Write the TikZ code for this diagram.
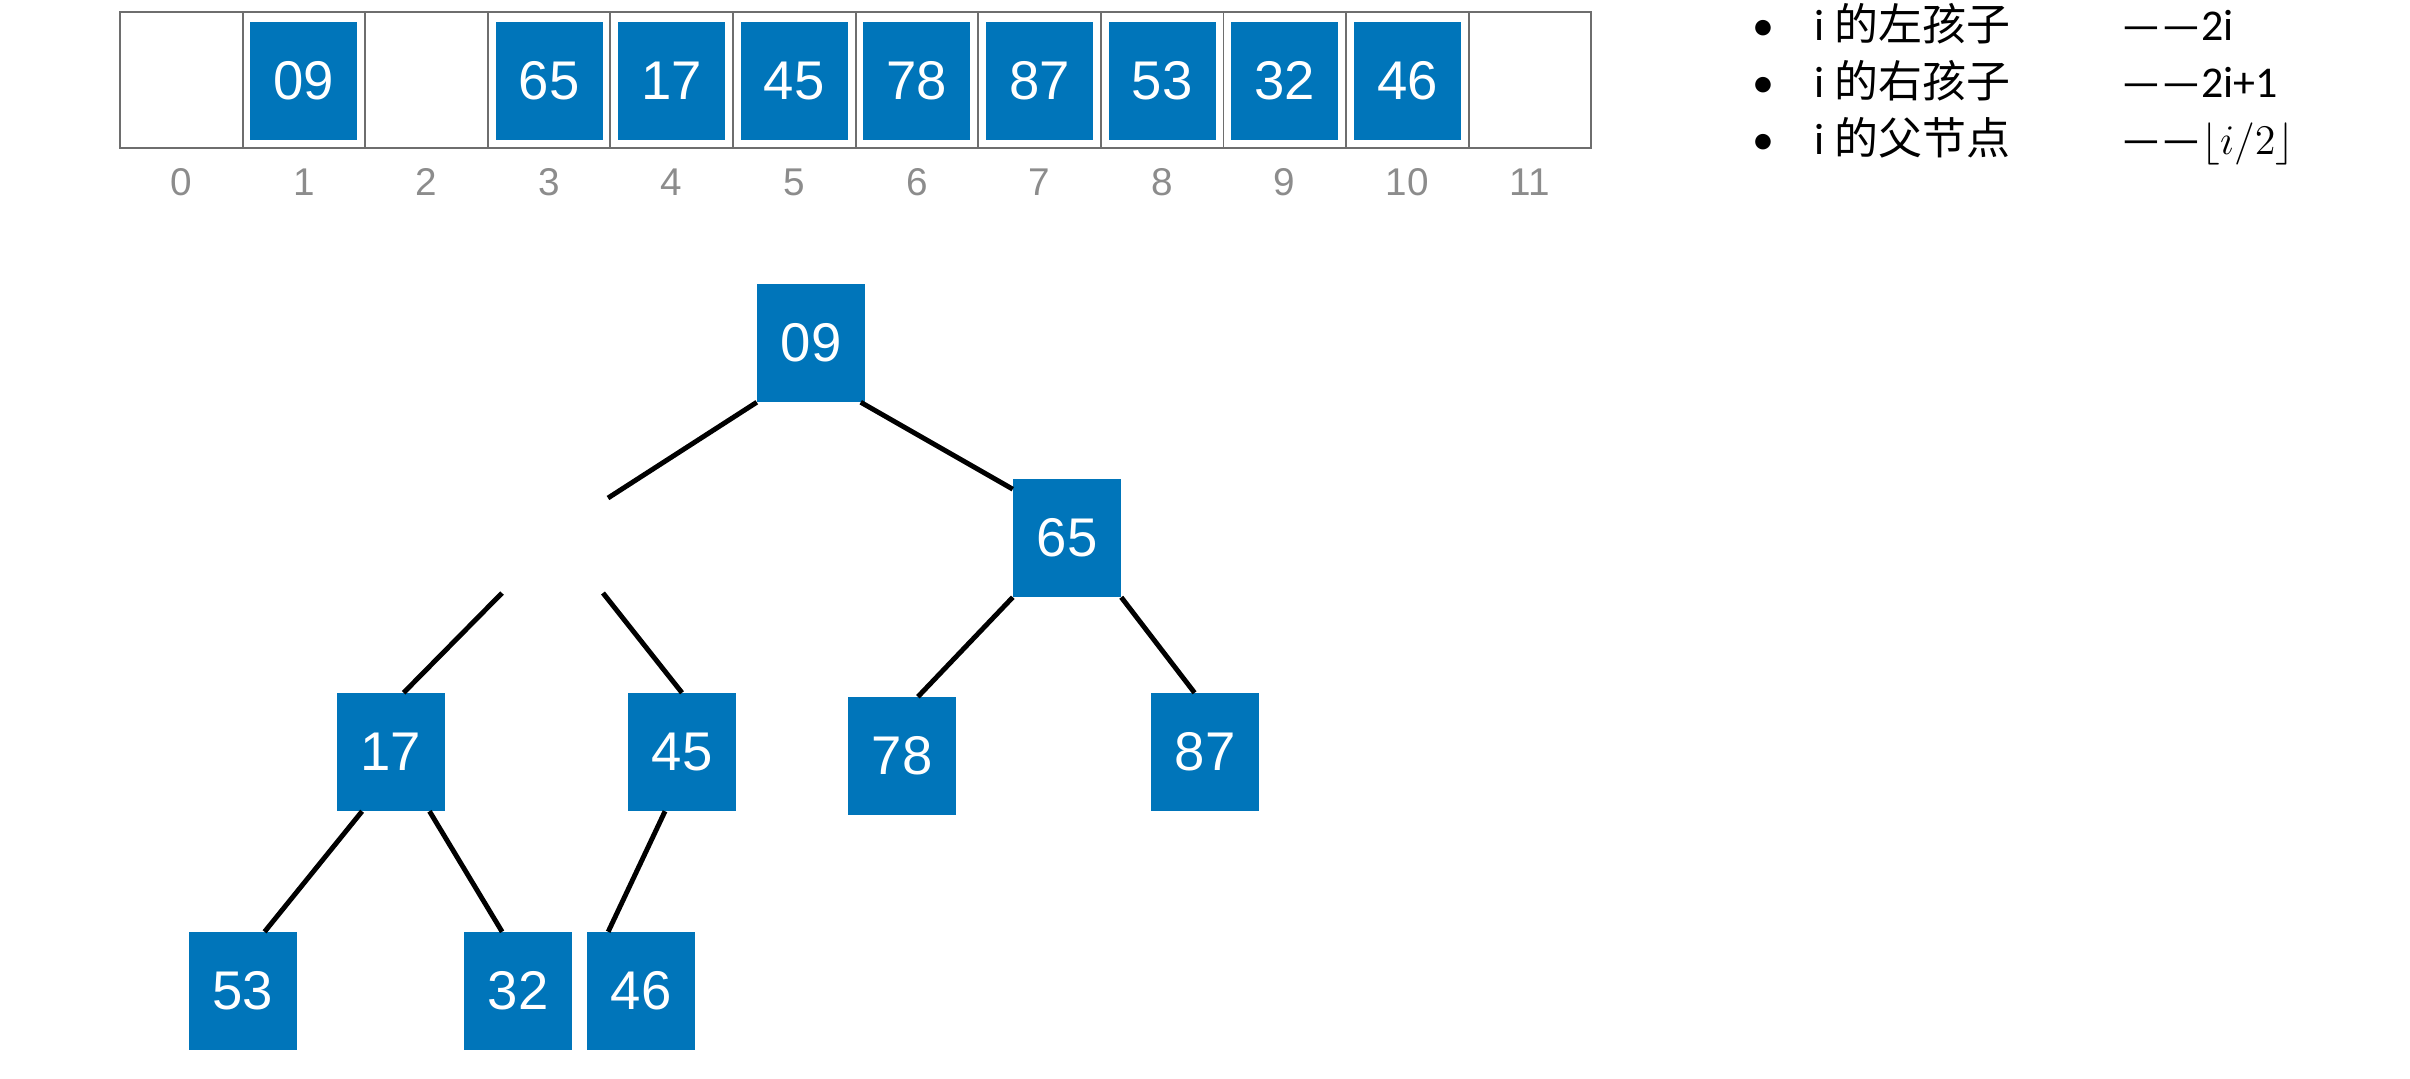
\documentclass[tikz,border=0pt]{standalone}
\usepackage{fontspec}
\setmainfont{Liberation Sans}
\newfontfamily\cjk{Noto Sans CJK SC}
\newfontfamily\calib{Carlito}
\definecolor{keyblue}{RGB}{0,117,186}
\definecolor{idxgray}{RGB}{140,140,140}
\definecolor{cellgray}{RGB}{110,110,110}

\begin{document}
\begin{tikzpicture}
    [x=0.01cm,y=-0.01cm,
     cell/.style={rectangle,draw=cellgray,line width=0.5pt,minimum width=1.226cm,minimum height=1.36cm,inner sep=0},
     key/.style={rectangle,fill=keyblue,text=white,minimum width=1.07cm,minimum height=1.17cm,inner sep=0,font=\fontsize{15.5}{18}\selectfont},
     idx/.style={text=idxgray,font=\fontsize{11}{13}\selectfont},
     rule/.style={anchor=base west,inner sep=0,font=\calib\fontsize{12.5}{15}\selectfont},
     link/.style={line width=1.4pt}]
    \useasboundingbox (0,0) rectangle (2410,1078);
    % array
    \foreach \i in {0,...,11} {
      \node (cell\i) [cell] at (181.3+122.6*\i,80) {};
      \node (idx\i)  [idx]  at (181.3+122.6*\i,182) {\i};
    }
    \foreach \i/\v in {1/09,3/65,4/17,5/45,6/78,7/87,8/53,9/32,10/46}
      \node (a\i) [key] at ([yshift=-0.01cm]cell\i) {\v};
    % rules
    \node (b1) [rule] at (1752,40)  {•};
    \node (b2) [rule] at (1752,97)  {•};
    \node (b3) [rule] at (1752,154) {•};
    \node (l1) [rule] at (1814,40)  {i {\cjk 的左孩子}};
    \node (l2) [rule] at (1814,97)  {i {\cjk 的右孩子}};
    \node (l3) [rule] at (1814,154) {i {\cjk 的父节点}};
    \node (f1) [rule] at (2121,40)  {——2i};
    \node (f2) [rule] at (2121,97)  {——2i+1};
    \node (f3) [rule] at (2121,154) {——$\lfloor i/2\rfloor$};
    % tree
    \node (n09) at (811,343)  [key] {09};
    \node (n65) at (1067,538) [key] {65};
    \node (n17) at (391,752)  [key] {17};
    \node (n45) at (682,752)  [key] {45};
    \node (n78) at (902,756)  [key] {78};
    \node (n87) at (1205,752) [key] {87};
    \node (n53) at (243,991)  [key] {53};
    \node (n32) at (518,991)  [key] {32};
    \node (n46) at (641,991)  [key] {46};
    \coordinate (gapin)  at (608,498);
    \coordinate (gapl)   at (502,593);
    \coordinate (gapr)   at (603,593);
    \draw [link] (n09.south west) -- (gapin);
    \draw [link] (n09.-50) -- (n65.138);
    \draw [link] (gapl) -- (n17.78);
    \draw [link] (gapr) -- (n45.north);
    \draw [link] (n65.south west) -- (n78.75);
    \draw [link] (n65.south east) -- (n87.100);
    \draw [link] (n17.-116) -- (n53.70);
    \draw [link] (n17.-57) -- (n32.105);
    \draw [link] (n45.-106) -- (n46.119);
  \end{tikzpicture}
\end{document}
